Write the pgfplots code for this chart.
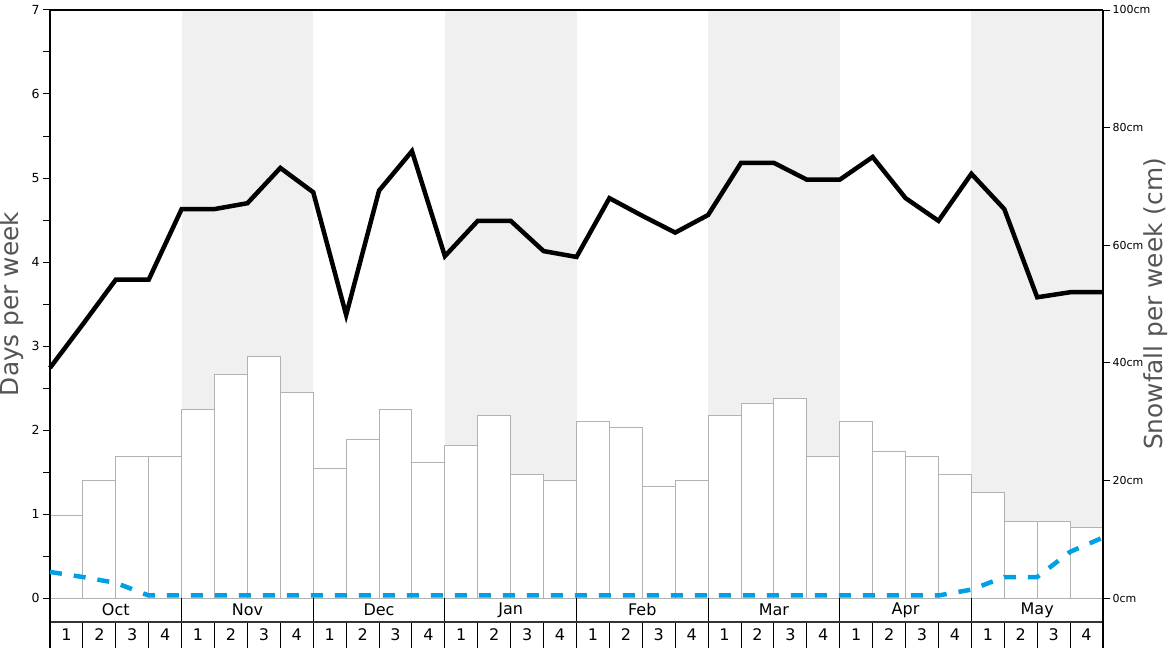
\documentclass[border=0pt]{standalone}
\usepackage{pgfplots}
\usepackage{pgfplotstable}
\pgfplotsset{compat=1.18}
\usepackage{fontspec}
\setmainfont{DejaVu Sans}
\definecolor{band}{RGB}{240,240,240}
\definecolor{bargray}{RGB}{178,178,178}
\definecolor{skyb}{RGB}{0,160,228}
\definecolor{labgray}{RGB}{85,85,85}
\definecolor{rowline}{RGB}{51,51,51}

\pgfplotstableread{
x cm
0.5 14
1.5 20
2.5 24
3.5 24
4.5 32
5.5 38
6.5 41
7.5 35
8.5 22
9.5 27
10.5 32
11.5 23
12.5 26
13.5 31
14.5 21
15.5 20
16.5 30
17.5 29
18.5 19
19.5 20
20.5 31
21.5 33
22.5 34
23.5 24
24.5 30
25.5 25
26.5 24
27.5 21
28.5 18
29.5 13
30.5 13
31.5 12
}\snowtable

\pgfplotstableread{
x v
0 2.74
1 3.26
2 3.79
3 3.79
4 4.63
5 4.63
6 4.70
7 5.12
8 4.83
9 3.37
10 4.85
11 5.32
12 4.07
13 4.49
14 4.49
15 4.13
16 4.06
17 4.76
18 4.55
19 4.35
20 4.56
21 5.18
22 5.18
23 4.98
24 4.98
25 5.25
26 4.76
27 4.49
28 5.05
29 4.63
30 3.58
31 3.64
32 3.64
}\blacktable

\pgfplotstableread{
x v
0 0.31
1 0.25
2 0.18
3 0.03
4 0.03
5 0.03
6 0.03
7 0.03
8 0.03
9 0.03
10 0.03
11 0.03
12 0.03
13 0.03
14 0.03
15 0.03
16 0.03
17 0.03
18 0.03
19 0.03
20 0.03
21 0.03
22 0.03
23 0.03
24 0.03
25 0.03
26 0.03
27 0.03
28 0.10
29 0.25
30 0.25
31 0.55
32 0.72
}\bluetable

\begin{document}
\begin{tikzpicture}
\pgfplotsset{every axis/.append style={scale only axis, width=1053pt, height=588pt, xmin=0, xmax=32,
  /pgf/number format/assume math mode=true, clip=false}}
% right axis: snowfall (cm)
\begin{axis}[name=ax, ymin=0, ymax=100, axis x line=none, axis y line*=right,
  ytick={0,20,...,100}, yticklabel={\pgfmathprintnumber{\tick}cm},
  yticklabel style={font=\fontsize{11}{13}\selectfont, xshift=-1pt},
  tick align=outside, major tick length=7pt,
  y axis line style={line width=1.7pt}, ytick style={line width=0.8pt, black},
  axis on top]
\fill[band] (axis cs:4,0) rectangle (axis cs:8,100);
\fill[band] (axis cs:12,0) rectangle (axis cs:16,100);
\fill[band] (axis cs:20,0) rectangle (axis cs:24,100);
\fill[band] (axis cs:28,0) rectangle (axis cs:32,100);
\addplot[ybar, bar width=1, fill=white, draw=bargray, line width=1pt] table[x=x,y=cm]{\snowtable};
\end{axis}
% left axis: days per week
\begin{axis}[at={(ax.south west)}, anchor=south west, ymin=0, ymax=7,
  axis x line=none, axis y line*=left,
  ytick={0,...,7}, minor ytick={0.5,1.5,...,6.5},
  yticklabel style={font=\fontsize{12.5}{14}\selectfont},
  tick align=outside, major tick length=7pt, minor tick length=7pt,
  y axis line style={line width=1.7pt}, ytick style={line width=1pt, black},
  minor tick style={line width=1pt, black}]
\draw[line width=1.7pt] (axis cs:0,7) -- (axis cs:32,7);
\draw[bargray, line width=1pt] (axis cs:0,0) -- (axis cs:32,0);
% month and week rows
\pgfplotsinvokeforeach{4,8,...,28}{\draw[black, line width=1pt] (axis cs:#1,0) -- (axis cs:#1,-0.2857);}
\pgfplotsinvokeforeach{1,...,31}{\draw[black, line width=1pt] (axis cs:#1,-0.2857) -- (axis cs:#1,-0.5952);}
\draw[rowline, line width=2pt] (axis cs:0,-0.2857) -- (axis cs:32,-0.2857);
\draw[line width=1.7pt] (axis cs:0,0) -- (axis cs:0,-0.5952);
\draw[line width=1.7pt] (axis cs:32,0) -- (axis cs:32,-0.5952);
\node[font=\fontsize{16}{18}\selectfont] at (axis cs:2,-0.143) {Oct};
\node[font=\fontsize{16}{18}\selectfont] at (axis cs:6,-0.143) {Nov};
\node[font=\fontsize{16}{18}\selectfont] at (axis cs:10,-0.143) {Dec};
\node[font=\fontsize{16}{18}\selectfont] at (axis cs:14,-0.143) {Jan};
\node[font=\fontsize{16}{18}\selectfont] at (axis cs:18,-0.143) {Feb};
\node[font=\fontsize{16}{18}\selectfont] at (axis cs:22,-0.143) {Mar};
\node[font=\fontsize{16}{18}\selectfont] at (axis cs:26,-0.143) {Apr};
\node[font=\fontsize{16}{18}\selectfont] at (axis cs:30,-0.143) {May};
\pgfplotsinvokeforeach{0.5,4.5,...,28.5}{\node[font=\fontsize{16}{18}\selectfont] at (axis cs:#1,-0.44) {1};}
\pgfplotsinvokeforeach{1.5,5.5,...,29.5}{\node[font=\fontsize{16}{18}\selectfont] at (axis cs:#1,-0.44) {2};}
\pgfplotsinvokeforeach{2.5,6.5,...,30.5}{\node[font=\fontsize{16}{18}\selectfont] at (axis cs:#1,-0.44) {3};}
\pgfplotsinvokeforeach{3.5,7.5,...,31.5}{\node[font=\fontsize{16}{18}\selectfont] at (axis cs:#1,-0.44) {4};}
\addplot[skyb, line width=4.5pt, dash pattern=on 12pt off 12pt] table[x=x,y=v]{\bluetable};
\addplot[black, line width=4.5pt] table[x=x,y=v]{\blacktable};
\end{axis}
\node[rotate=90, font=\fontsize{24.8}{28}\selectfont, text=labgray] at ([xshift=-38pt]ax.west) {Days per week};
\node[rotate=90, font=\fontsize{24.8}{28}\selectfont, text=labgray] at ([xshift=53pt]ax.east) {Snowfall per week (cm)};
\pgfresetboundingbox
\path[use as bounding box] ([xshift=-50pt,yshift=-50pt]ax.south west) rectangle ([xshift=65pt,yshift=10pt]ax.north east);
\end{tikzpicture}
\end{document}
